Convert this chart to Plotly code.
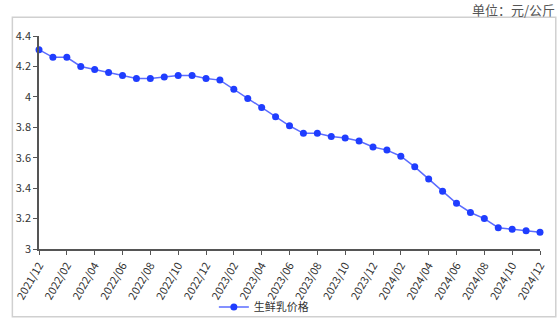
import plotly.graph_objects as go

months = ["2021/12",
          "2022/01", "2022/02", "2022/03", "2022/04", "2022/05", "2022/06",
          "2022/07", "2022/08", "2022/09", "2022/10", "2022/11", "2022/12",
          "2023/01", "2023/02", "2023/03", "2023/04", "2023/05", "2023/06",
          "2023/07", "2023/08", "2023/09", "2023/10", "2023/11", "2023/12",
          "2024/01", "2024/02", "2024/03", "2024/04", "2024/05", "2024/06",
          "2024/07", "2024/08", "2024/09", "2024/10", "2024/11", "2024/12"]
prices = [4.31,
          4.26, 4.26, 4.20, 4.18, 4.16, 4.14,
          4.12, 4.12, 4.13, 4.14, 4.14, 4.12,
          4.11, 4.05, 3.99, 3.93, 3.87, 3.81,
          3.76, 3.76, 3.74, 3.73, 3.71, 3.67,
          3.65, 3.61, 3.54, 3.46, 3.38, 3.30,
          3.24, 3.20, 3.14, 3.13, 3.12, 3.11]
series_name = "生鲜乳价格"
unit_text = "单位：元/公斤"
y_ticks = [3, 3.2, 3.4, 3.6, 3.8, 4, 4.2, 4.4]

W, H = 559, 334
ml, mr, mt, mb = 32, 19, 36, 81
pw, ph = W - ml - mr, H - mt - mb

def px_x(p):
    return (p - ml) / pw

def px_y(p):
    return (H - mb - p) / ph

fig = go.Figure()
fig.add_trace(go.Scatter(
    x=months, y=prices, name=series_name, mode="lines+markers",
    line=dict(color="#5b6cff", width=1.5),
    marker=dict(color="#1f3dff", size=7),
    cliponaxis=False,
))

fig.update_layout(
    width=W, height=H,
    margin=dict(l=ml, r=mr, t=mt, b=mb),
    paper_bgcolor="white", plot_bgcolor="white",
    font=dict(family="Noto Sans CJK SC, Noto Sans", color="#333333", size=11),
    showlegend=True,
    legend=dict(orientation="h", x=px_x(260), xanchor="center",
                y=px_y(312), yanchor="middle",
                bgcolor="rgba(0,0,0,0)",
                font=dict(size=11, color="#333333")),
    xaxis=dict(
        type="category", range=[0, len(months) - 1],
        tickvals=months[::2], ticktext=months[::2],
        tickangle=-60, showgrid=False, zeroline=False,
        showline=True, linecolor="#555555", linewidth=1.5,
        ticks="outside", ticklen=4, tickcolor="#555555",
        tickfont=dict(size=11, color="#333333"),
    ),
    yaxis=dict(
        range=[3, 4.4], tickvals=y_ticks,
        showgrid=False, zeroline=False,
        showline=True, linecolor="#555555", linewidth=1.5,
        ticks="outside", ticklen=4, tickcolor="#555555",
        tickfont=dict(size=11, color="#333333"),
    ),
    shapes=[dict(type="rect", xref="paper", yref="paper",
                 x0=px_x(5), x1=px_x(556), y0=px_y(322), y1=px_y(17),
                 line=dict(color="#d0d0d0", width=1.5), layer="below")],
    annotations=[dict(text=unit_text, xref="paper", yref="paper",
                      x=px_x(557), y=px_y(9), xanchor="right", yanchor="middle",
                      showarrow=False,
                      font=dict(size=13, color="#555555",
                                family="Noto Sans CJK SC"))],
)

fig.write_html("out.html")
